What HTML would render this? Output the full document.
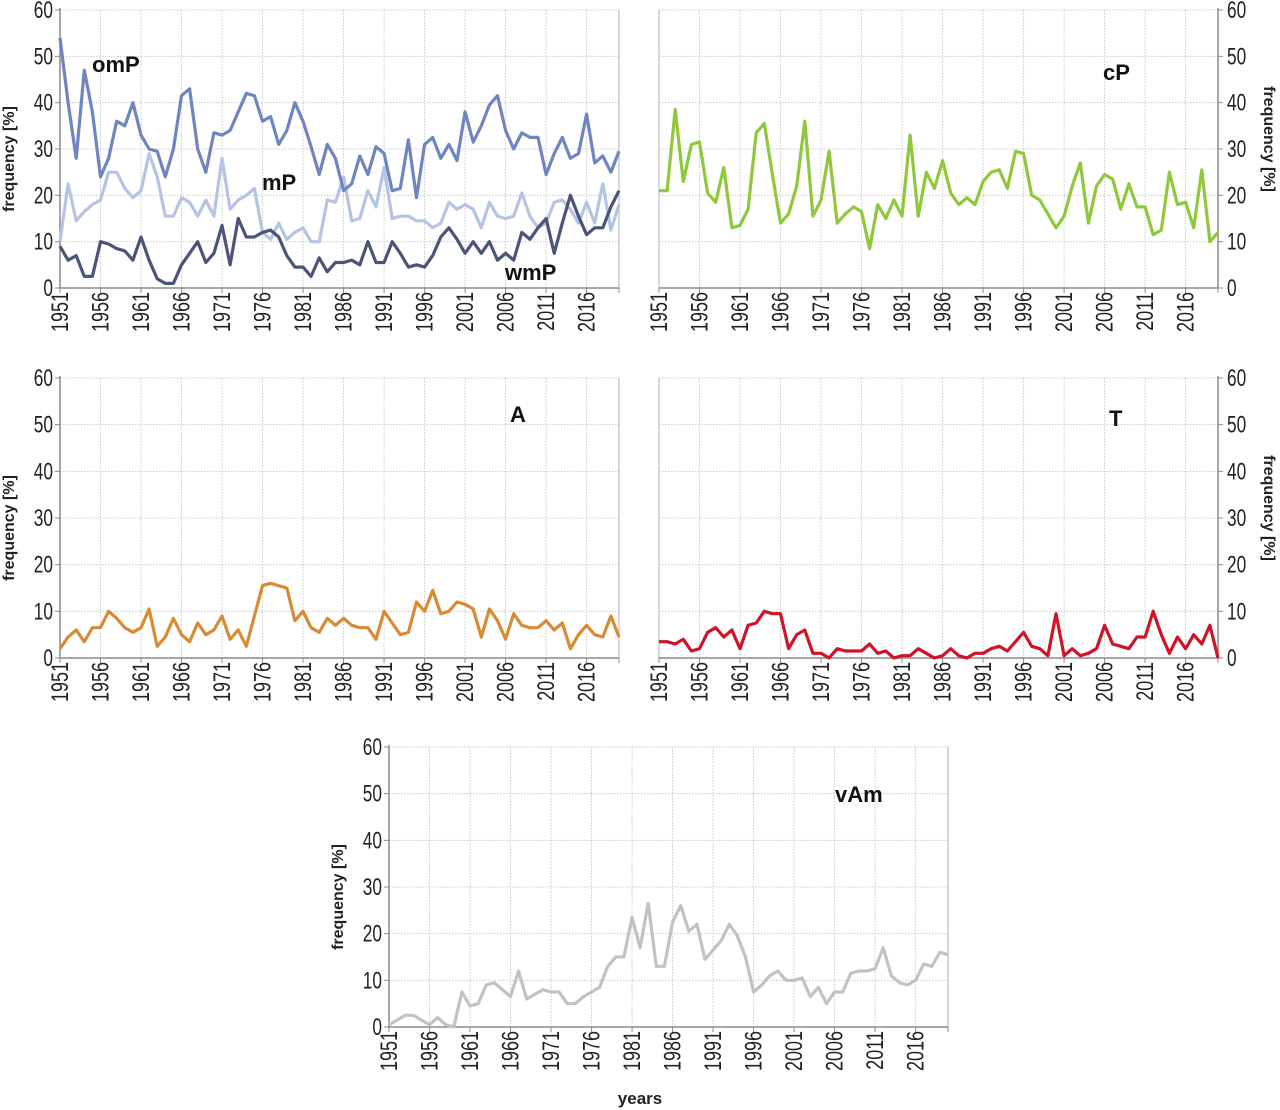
<!DOCTYPE html>
<html><head><meta charset="utf-8"><style>
body{margin:0;background:#fff;}
svg{display:block;font-family:"Liberation Sans",sans-serif;}
</style></head><body>
<svg id="c" width="1280" height="1110" viewBox="0 0 1280 1110"></svg>
<script>
const years = Array.from({length:70},(_,i)=>1951+i);
const xTicks = [1951,1956,1961,1966,1971,1976,1981,1986,1991,1996,2001,2006,2011,2016];
const yTicks = [0,10,20,30,40,50,60];
const omP = [54,40,28,47,38,24,28,36,35,40,33,30,29.5,24,30,41.5,43,30,25,33.5,33,34,38,42,41.5,36,37,31,34,40,36,30.5,24.5,31,28,21,22.5,28.5,24.5,30.5,29,21,21.5,32,19.5,31,32.5,28,31,27.5,38,31.5,35,39.5,41.5,34,30,33.5,32.5,32.5,24.5,29,32.5,28,29,37.5,27,28.5,25,29.5];
const mP = [10,22.5,14.5,16.5,18,19,25,25,21.5,19.5,21,29,24,15.5,15.5,19.5,18.5,15.5,19,15.5,28,17,19,20,21.5,12,10.5,14,10.5,12,13,10,10,19,18.5,24,14.5,15,21,17.5,26,15,15.5,15.5,14.5,14.5,13,14,18.5,17,18,17,13,18.5,15.5,15,15.5,20.5,15.5,13,14,18.5,19,17,14,18.5,14,22.5,12.5,18];
const wmP = [9,6,7,2.5,2.5,10,9.5,8.5,8,6,11,6,2,1,1,5,7.5,10,5.5,7.5,13.5,5,15,11,11,12,12.5,11,7,4.5,4.5,2.5,6.5,3.5,5.5,5.5,6,5,10,5.5,5.5,10,7.5,4.5,5,4.5,7,11,13,10.5,7.5,10,7.5,10,6,7.5,6,12,10.5,13,15,7.5,14,20,15.5,11.5,13,13,17.5,21];
const cP = [21,21,38.5,23,31,31.5,20.5,18.5,26,13,13.5,17,33.5,35.5,24.5,14,16,22,36,15.5,19,29.5,14,16,17.5,16.5,8.5,18,15,19,15.5,33,15.5,25,21.5,27.5,20.5,18,19.5,18,23,25,25.5,21.5,29.5,29,20,19,16,13,15.5,22,27,14,22,24.5,23.5,17,22.5,17.5,17.5,11.5,12.5,25,18,18.5,13,25.5,10,12];
const A = [2,4.5,6,3.5,6.5,6.5,10,8.5,6.5,5.5,6.5,10.5,2.5,4.5,8.5,5,3.5,7.5,5,6,9,4,6,2.5,9,15.5,16,15.5,15,8,10,6.5,5.5,8.5,7,8.5,7,6.5,6.5,4,10,7.5,5,5.5,12,10,14.5,9.5,10,12,11.5,10.5,4.5,10.5,8,4,9.5,7,6.5,6.5,8,6,7.5,2,5,7,5,4.5,9,4.5];
const T = [3.5,3.5,3,4,1.5,2,5.5,6.5,4.5,6,2,7,7.5,10,9.5,9.5,2,5,6,1,1,0,2,1.5,1.5,1.5,3,1,1.5,0,0.5,0.5,2,1,0,0.5,2,0.5,0,1,1,2,2.5,1.5,3.5,5.5,2.5,2,0.5,9.5,0.5,2,0.5,1,2,7,3,2.5,2,4.5,4.5,10,5,1,4.5,2,5,3,7,0];
const vAm = [0.5,1.5,2.5,2.5,1.5,0.5,2,0.5,0,7.5,4.5,5,9,9.5,8,6.5,12,6,7,8,7.5,7.5,5,5,6.5,7.5,8.5,13,15,15,23.5,17,26.5,13,13,22.5,26,20.5,22,14.5,16.5,18.5,22,19.5,15,7.5,9,11,12,10,10,10.5,6.5,8.5,5,7.5,7.5,11.5,12,12,12.5,17,11,9.5,9,10,13.5,13,16,15.5];

const svg=document.getElementById('c');
const NS='http://www.w3.org/2000/svg';
function mk(tag,attrs,parent,text){const e=document.createElementNS(NS,tag);for(const k in attrs)e.setAttribute(k,attrs[k]);if(text!==undefined)e.textContent=text;(parent||svg).appendChild(e);return e;}

function panel(p){
  const g=mk('g',{});
  
  
  const xs=y=>p.x0+(y-1951)*(p.x1-p.x0)/(2020-1951);
  const ys=v=>p.y1-v*(p.y1-p.y0)/60;
  yTicks.forEach(t=>{ if(t>0){const l=mk('line',{x1:p.x0,x2:p.x1,y1:ys(t),y2:ys(t),stroke:'#c8c8c8','stroke-dasharray':'1.5,1.5','stroke-width':1},g);
    }});
  xTicks.forEach(t=>{ if(t>1951){const l=mk('line',{x1:xs(t),x2:xs(t),y1:p.y0,y2:p.y1,stroke:'#c8c8c8','stroke-dasharray':'1.5,1.5','stroke-width':1},g);
    }});
  const ax=p.right?p.x1:p.x0, ox=p.right?p.x0:p.x1;
  mk('line',{x1:ax,x2:ax,y1:p.y0-2,y2:p.y1,stroke:'#8a8a8a','stroke-width':1.5},g);
  mk('line',{x1:ox,x2:ox,y1:p.y0,y2:p.y1,stroke:'#b0b0b0','stroke-width':1},g);
  mk('line',{x1:p.x0,x2:p.x1,y1:p.y1,y2:p.y1,stroke:'#8a8a8a','stroke-width':1.5},g);
  yTicks.forEach(t=>{
    const dx=p.right?1:-1;
    mk('line',{x1:ax,x2:ax+dx*5,y1:ys(t),y2:ys(t),stroke:'#8a8a8a','stroke-width':1},g);
    const tx=mk('text',{x:0,y:0,'font-size':24,'text-anchor':p.right?'start':'end',fill:'#222',transform:`translate(${p.right?ax+9:ax-7},${ys(t)+8}) scale(0.72,1)`},g,String(t));
    
  });
  xTicks.forEach(t=>{
    mk('line',{x1:xs(t),x2:xs(t),y1:p.y1,y2:p.y1+5,stroke:'#8a8a8a','stroke-width':1},g);
    const tx=mk('text',{x:0,y:0,'font-size':24,'text-anchor':'end',fill:'#222',transform:`translate(${xs(t)+8},${p.y1+4}) rotate(-90) scale(0.75,1)`},g,String(t));
    
  });
  mk('line',{x1:p.x1,x2:p.x1,y1:p.y1,y2:p.y1+5,stroke:'#8a8a8a','stroke-width':1},g);
  const cy=(p.y0+p.y1)/2;
  const yt=p.right?
    mk('text',{x:0,y:0,'font-size':16,'font-weight':'bold','text-anchor':'middle',fill:'#222',transform:`translate(1264,${cy-10}) rotate(90)`},g,'frequency [%]'):
    mk('text',{x:0,y:0,'font-size':16,'font-weight':'bold','text-anchor':'middle',fill:'#222',transform:`translate(${p.x0-46},${cy+10}) rotate(-90)`},g,'frequency [%]');
  
  p.series.forEach(s=>{
    const d=s.vals.map((v,i)=>(i?'L':'M')+xs(years[i]).toFixed(1)+','+ys(v).toFixed(1)).join('');
    const path=mk('path',{d:d,fill:'none',stroke:s.color,'stroke-width':3.2,'stroke-linejoin':'round'},g);
    
    const lab=mk('text',{x:s.lx,y:s.ly,'font-size':22,'font-weight':'bold',fill:'#111'},g,s.name);
    
  });
}
panel({name:'polar',x0:60,x1:619,y0:10,y1:288,right:false,series:[
  {name:'mP',vals:mP,color:'#b5c4e3',lx:262,ly:190},
  {name:'wmP',vals:wmP,color:'#4a5577',lx:505,ly:280},
  {name:'omP',vals:omP,color:'#6f85bf',lx:92,ly:72}]});
panel({name:'cP',x0:659,x1:1218,y0:10,y1:288,right:true,series:[{name:'cP',vals:cP,color:'#8fc83a',lx:1103,ly:80}]});
panel({name:'A',x0:60,x1:619,y0:378,y1:658,right:false,series:[{name:'A',vals:A,color:'#d88a35',lx:510,ly:422}]});
panel({name:'T',x0:659,x1:1218,y0:378,y1:658,right:true,series:[{name:'T',vals:T,color:'#cf1429',lx:1109,ly:426}]});
panel({name:'vAm',x0:389,x1:948,y0:747,y1:1027,right:false,series:[{name:'vAm',vals:vAm,color:'#c2c2c2',lx:835,ly:802}]});
const yr=mk('text',{x:640,y:1104,'font-size':17,'font-weight':'bold','text-anchor':'middle',fill:'#222'},svg,'years');


</script>
</body></html>
